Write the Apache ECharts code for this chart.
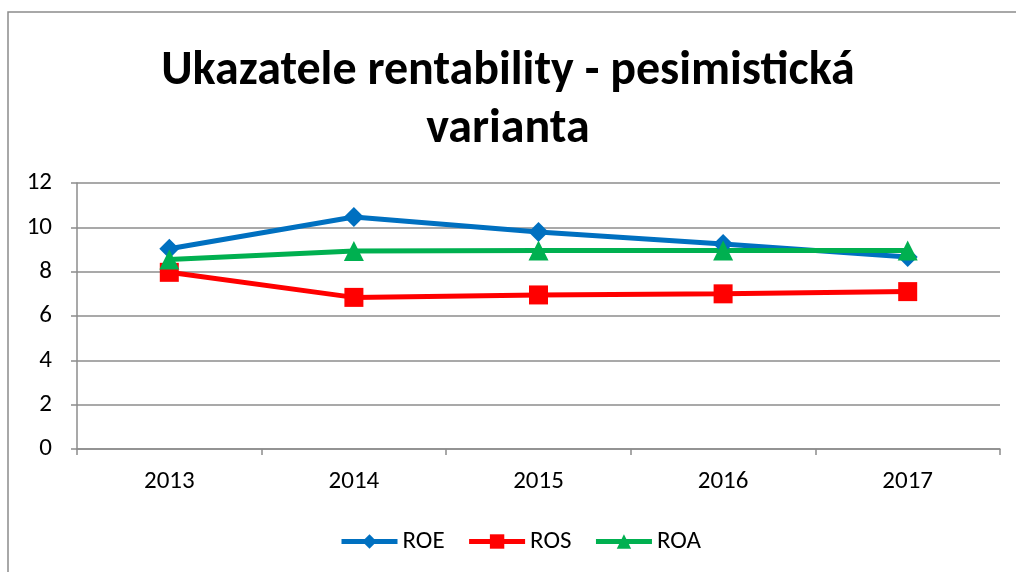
<!DOCTYPE html>
<html>
<head>
<meta charset="utf-8">
<script src="https://cdn.jsdelivr.net/npm/echarts@6/dist/echarts.min.js"></script>
<style>
  html, body { margin: 0; padding: 0; background: #fff; }
  #main { width: 1016px; height: 572px; }
</style>
</head>
<body>
<div id="main"></div>
<script>
// data
var years = ["2013", "2014", "2015", "2016", "2017"];
var roe = [9.03, 10.47, 9.79, 9.25, 8.66];
var ros = [7.97, 6.84, 6.95, 7.0, 7.1];
var roa = [8.55, 8.93, 8.96, 8.96, 8.96];
var yTicks = [0, 2, 4, 6, 8, 10, 12];

var font = "Carlito, 'Liberation Sans Narrow', 'Liberation Sans', sans-serif";
var myChart = echarts.init(document.getElementById("main"));

function line(name, data, color, symbol, size) {
  return {
    name: name,
    type: "line",
    data: data,
    symbol: symbol,
    symbolSize: size,
    lineStyle: { color: color, width: 5 },
    itemStyle: { color: color },
    animation: false
  };
}

var option = {
  backgroundColor: "#fff",
  textStyle: { fontFamily: font },
  graphic: [
    {
      type: "rect",
      shape: { x: 8, y: 12, width: 1100, height: 700 },
      style: { fill: "none", stroke: "#8c8c8c", lineWidth: 1.5 },
      silent: true
    }
  ],
  title: {
    text: "Ukazatele rentability - pesimistická\nvarianta",
    left: "center",
    top: 38,
    textStyle: {
      fontFamily: font,
      fontSize: 48,
      fontWeight: "bold",
      color: "#000",
      lineHeight: 58
    }
  },
  legend: {
    bottom: 13,
    left: 334,
    itemWidth: 56,
    itemHeight: 18,
    itemGap: 22,
    lineStyle: { width: 5 },
    textStyle: { fontFamily: font, fontSize: 25, color: "#000" },
    data: ["ROE", "ROS", "ROA"]
  },
  grid: { left: 77, right: 16, top: 183, bottom: 123 },
  xAxis: {
    type: "category",
    data: years,
    boundaryGap: true,
    axisLine: { lineStyle: { color: "#8c8c8c", width: 1.5 } },
    axisTick: { show: true, length: 6, lineStyle: { color: "#8c8c8c", width: 1.5 } },
    axisLabel: { fontSize: 25, color: "#000", margin: 20 }
  },
  yAxis: {
    type: "value",
    min: yTicks[0],
    max: yTicks[yTicks.length - 1],
    interval: 2,
    axisLine: { show: true, lineStyle: { color: "#8c8c8c", width: 1.5 } },
    axisTick: { show: true, length: 6, lineStyle: { color: "#8c8c8c", width: 1.5 } },
    splitLine: { lineStyle: { color: "#8c8c8c", width: 1.5 } },
    axisLabel: { fontSize: 25, color: "#000", margin: 25 }
  },
  series: [
    line("ROE", roe, "#0070c0", "diamond", 20),
    line("ROS", ros, "#ff0000", "rect", 19),
    line("ROA", roa, "#00b050", "triangle", 20)
  ]
};

option && myChart.setOption(option);
</script>
</body>
</html>
